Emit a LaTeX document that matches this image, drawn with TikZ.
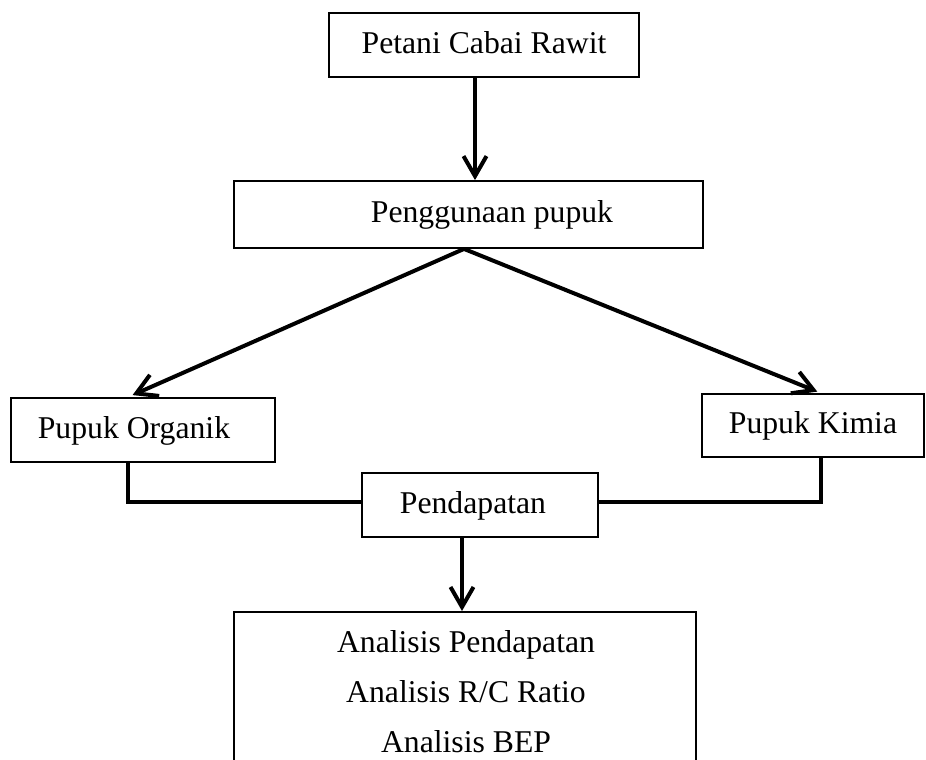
\documentclass[tikz,border=0pt]{standalone}
\usepackage{fontspec}
\setmainfont{Liberation Serif}
\usetikzlibrary{arrows.meta}
\begin{document}
\begin{tikzpicture}[x=1pt,y=-1pt,
  box/.style={draw, line width=1.8pt, inner sep=0pt, text height=23pt, text depth=7pt, font=\fontsize{31.7}{38}\selectfont},
  txt/.style={inner sep=0pt, font=\fontsize{31.7}{38}\selectfont, anchor=base},
  conn/.style={line width=4pt},
  arr/.style={line width=4pt, -{Straight Barb[length=20pt,width=23pt]}}]
\path[use as bounding box, clip] (0,0) rectangle (926,760);
\fill[white] (0,0) rectangle (926,760);
\node[box, minimum width=310, minimum height=64] (b1) at (484,45) {Petani Cabai Rawit};
\node[box, minimum width=469, minimum height=67] (b2) at (468.5,214.5) {\hspace*{47pt}Penggunaan pupuk};
\node[box, minimum width=264, minimum height=64] (b3) at (143,430) {Pupuk Organik\hspace*{18pt}};
\node[box, minimum width=222, minimum height=63] (b4) at (813,425.5) {Pupuk Kimia};
\node[box, minimum width=236, minimum height=64] (b5) at (480,505) {Pendapatan\hspace*{14pt}};
\node[box, minimum width=462, minimum height=200, anchor=north] (b6) at (465,611) {};
\node[txt] (t1) at (466,652) {Analisis Pendapatan};
\node[txt] (t2) at (466,702) {Analisis R/C Ratio};
\node[txt] (t3) at (466,752) {Analisis BEP};
\draw[arr] ([xshift=-9pt]b1.south) -- ([xshift=-9pt]b1.south |- b2.north);
\draw[arr, shorten >=5pt] ([xshift=-4.5pt]b2.south) -- ([xshift=-15pt]b3.north);
\draw[arr, shorten >=4pt] ([xshift=-4.5pt]b2.south) -- ([xshift=8pt]b4.north);
\draw[conn] ([xshift=-15pt]b3.south) |- ([yshift=3pt]b5.west);
\draw[conn] ([xshift=8pt]b4.south) |- ([yshift=3pt]b5.east);
\draw[arr] ([xshift=-18pt]b5.south) -- ([xshift=-18pt]b5.south |- b6.north);
\end{tikzpicture}
\end{document}
